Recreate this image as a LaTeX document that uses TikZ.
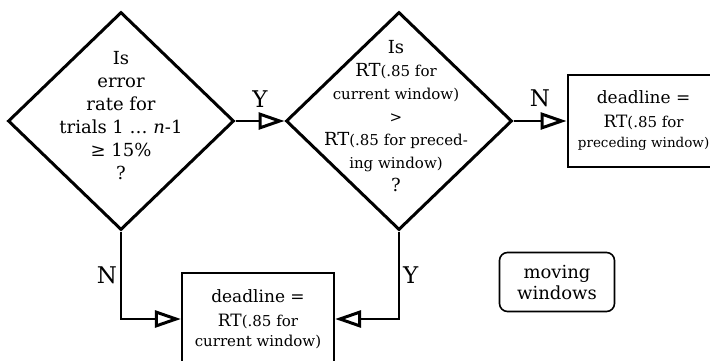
\documentclass[tikz,border=0pt]{standalone}
\usepackage{fontspec}
\setmainfont{DejaVu Serif}
\usetikzlibrary{arrows.meta,positioning,shapes.geometric}
\newcommand\smtxt[1]{{\fontsize{15}{22}\selectfont #1}}
\tikzset{
  >={Triangle[open,length=26pt,width=17pt,line width=3pt]},
  dec/.style  ={draw, diamond, line width=3pt, minimum width=226pt, minimum height=218pt, inner sep=0pt},
  qtxt/.style ={align=center, font=\fontsize{18}{23}\selectfont},
  res/.style  ={draw, line width=2.2pt, minimum width=152pt, minimum height=92pt, align=center,
                font=\fontsize{17}{24}\selectfont},
  tag/.style  ={draw, rounded corners=8pt, line width=1.6pt, minimum width=115pt, minimum height=59pt,
                align=center, font=\fontsize{18}{21}\selectfont},
  yn/.style   ={font=\fontsize{23}{23}\selectfont, inner sep=1pt},
  flow/.style ={->, line width=2pt}
}
\begin{document}
\begin{tikzpicture}[x=1pt,y=-1pt]
\useasboundingbox (0,0) rectangle (710,360);
% decisions
\node[dec] (err) at (121,121) {};
\node[dec, right=49pt of err] (cmp) {};
\node[qtxt] (errq) at (121,116) {Is\\error\\rate for\\trials 1 \dots\ \emph{n}-1\\≥ 15\%\\?};
\node[qtxt] (cmpq) at (396,116) {Is\\RT\smtxt{(.85 for}\\\smtxt{current window)}\\\smtxt{>}\\RT\smtxt{(.85 for preced-}\\\smtxt{ing window)}\\?};
% outcomes
\node[res, right=53pt of cmp] (prev) {deadline =\\RT\smtxt{(.85 for}\\[-4pt]{\fontsize{13.5}{22}\selectfont preceding window)}};
\node[res] (cur) at (258,319) {deadline =\\RT\smtxt{(.85 for}\\[-4pt]\smtxt{current window)}};
\node[tag] (mw) at (557,282) {moving\\windows};
% connectors
\draw[flow] (err.east) -- node[yn, above=12pt] (y1) {Y} (cmp.west);
\draw[flow] (cmp.east) -- node[yn, above=12pt] (n1) {N} (prev.west);
\draw[flow] (err.south) |- node[yn, pos=0.25, left=2pt] (n2) {N} (cur.west);
\draw[flow] (cmp.south) |- node[yn, pos=0.25, right=2pt] (y2) {Y} (cur.east);
\end{tikzpicture}
\end{document}
